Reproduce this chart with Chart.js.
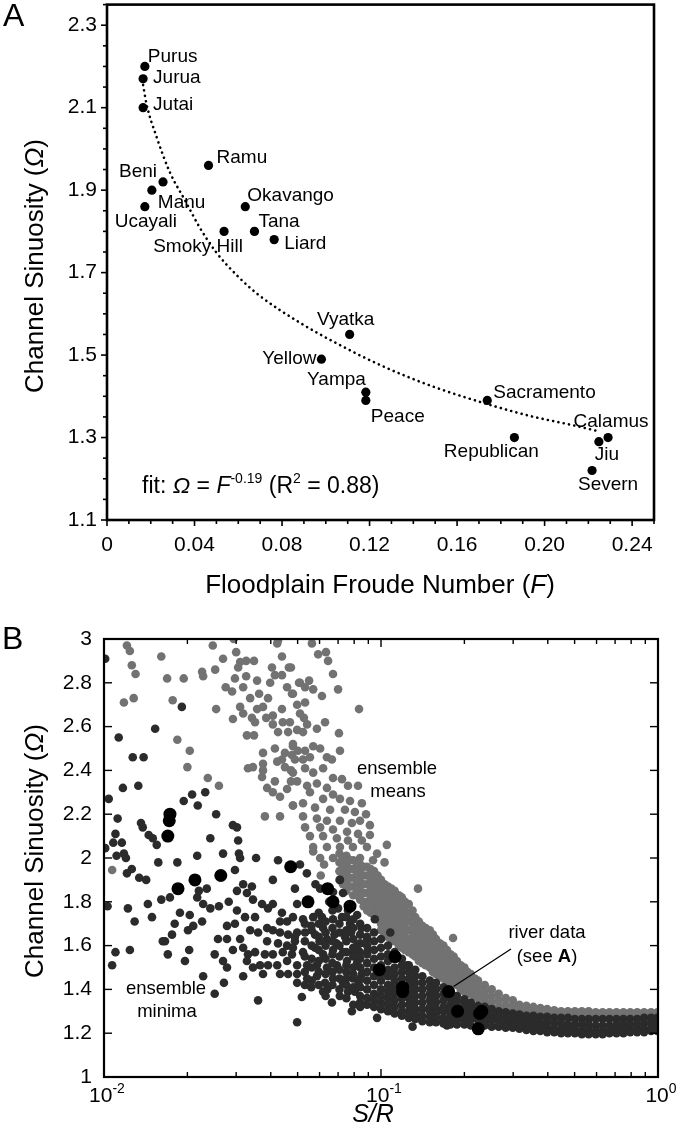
<!DOCTYPE html>
<html><head><meta charset="utf-8">
<script src="https://cdn.jsdelivr.net/npm/chart.js@4.4.1/dist/chart.umd.min.js"></script>
<style>
html,body{margin:0;padding:0;background:#fff;width:680px;height:1135px;overflow:hidden}
#wa{position:absolute;left:0;top:0;width:680px;height:600px}
#wb{position:absolute;left:0;top:600px;width:680px;height:535px}
canvas{display:block}
</style></head><body>
<div id="wa"><canvas id="ca" width="680" height="600"></canvas></div>
<div id="wb"><canvas id="cb" width="680" height="535"></canvas></div>
<script>
// ---------- DATA ----------
const riverNames = ['Purus','Jurua','Jutai','Ramu','Beni','Manu','Ucayali','Okavango','Smoky Hill','Tana','Liard','Vyatka','Yellow','Yampa','Peace','Sacramento','Republican','Calamus','Jiu','Severn'];
const riverF = [0.0173,0.0165,0.0165,0.0464,0.0256,0.0205,0.0173,0.0632,0.0535,0.0674,0.0764,0.1109,0.0980,0.1183,0.1183,0.1738,0.1862,0.2290,0.2248,0.2217];
const riverOmega = [2.20,2.17,2.10,1.96,1.92,1.90,1.86,1.86,1.80,1.80,1.78,1.55,1.49,1.41,1.39,1.39,1.30,1.30,1.29,1.22];
const riverSR = [0.0173,0.0172,0.0170,0.0472,0.0264,0.0213,0.0185,0.0642,0.0545,0.0671,0.0773,0.1124,0.0986,0.1197,0.1197,0.1754,0.189,0.231,0.227,0.2244];

const fitF = [0.0165,0.018,0.0226,0.0286,0.0362,0.0423,0.0498,0.0600,0.0695,0.0877,0.1044,0.1256,0.1483,0.1726,0.1936,0.2136,0.224];
const fitOmega = [2.155,2.11,2.03,1.945,1.87,1.81,1.75,1.69,1.645,1.580,1.530,1.474,1.425,1.383,1.352,1.329,1.316];

const xTicksA = [0,0.04,0.08,0.12,0.16,0.20,0.24];
const xTickLabelsA = ['0','0.04','0.08','0.12','0.16','0.20','0.24'];
const yTicksA = [1.1,1.3,1.5,1.7,1.9,2.1,2.3];
const yTickLabelsA = ['1.1','1.3','1.5','1.7','1.9','2.1','2.3'];

const xTicksB = [0.01,0.1,1];
const xTickExpB = ['-2','-1','0'];
const yTicksB = [1,1.2,1.4,1.6,1.8,2,2.2,2.4,2.6,2.8,3];
const yTickLabelsB = ['1','1.2','1.4','1.6','1.8','2','2.2','2.4','2.6','2.8','3'];

// ensemble means (grey): scattered points [S/R, Omega]
const meansScatter = [
[0.0121,2.97],[0.0124,2.945],[0.0126,2.88],[0.0130,2.84],[0.0118,2.71],[0.0128,2.73],[0.0161,2.92],[0.0169,2.82],[0.0194,2.82],[0.0177,2.72],[0.0184,2.54],[0.0204,2.49],[0.0200,2.415],[0.0237,2.365],[0.0260,2.33],[0.0226,2.85],[0.0228,2.83],[0.0252,2.86],[0.0247,2.97],[0.0254,2.68],[0.0269,2.91],[0.0294,3.0],[0.0300,2.94],[0.0310,2.895],[0.0326,2.90],[0.0348,2.90],[0.0305,2.87],[0.0297,2.82],[0.0326,2.83],[0.0357,2.81],[0.0275,2.78],[0.0290,2.76],[0.0318,2.78],[0.0337,2.73],[0.0363,2.75],[0.0391,2.73],[0.0310,2.69],[0.0318,2.66],[0.0292,2.635],[0.0342,2.64],[0.0351,2.62],[0.0357,2.68],[0.0375,2.69],[0.0385,2.64],[0.0407,2.65],[0.0439,2.68],[0.0407,2.61],[0.0442,2.62],[0.0425,2.575],[0.0462,2.575],[0.0328,2.56],[0.0348,2.56],[0.0414,2.50],[0.0450,2.48],[0.0481,2.51],[0.0477,2.47],[0.0439,2.45],[0.0422,2.44],[0.0450,2.415],[0.0473,2.40],[0.0375,2.48],[0.0375,2.43],[0.0331,2.41],[0.0345,2.415],[0.0375,2.40],[0.0372,2.37],[0.0414,2.35],[0.0473,2.35],[0.0388,2.32],[0.0407,2.30],[0.0432,2.28],[0.0458,2.315],[0.0481,2.24],[0.0381,2.19],[0.0432,2.19],[0.0425,2.995],[0.0422,2.98],[0.0439,2.92],[0.0404,2.87],[0.0414,2.835],[0.0439,2.835],[0.0465,2.87],[0.0398,2.80],[0.0458,2.78],[0.0481,2.75],[0.0498,2.70],[0.0506,2.80],[0.0498,2.585],
[0.0563,2.98],[0.0593,2.93],[0.0633,2.94],[0.0644,2.90],[0.0671,2.84],[0.0700,2.77],[0.0833,2.68],[0.0473,2.87],[0.0510,2.80],[0.0550,2.81],[0.0532,2.78],[0.0569,2.77],[0.0612,2.74],[0.0477,2.75],[0.0532,2.71],[0.0510,2.66],[0.0527,2.64],[0.0541,2.61],[0.0469,2.62],[0.0523,2.575],[0.0587,2.59],[0.0628,2.62],[0.0705,2.57],[0.0711,2.49],[0.0481,2.52],[0.0501,2.49],[0.0532,2.49],[0.0569,2.51],[0.0603,2.50],[0.0489,2.45],[0.0523,2.45],[0.0554,2.46],[0.0638,2.46],[0.0665,2.45],[0.0618,2.41],[0.0481,2.39],[0.0532,2.41],[0.0569,2.39],[0.0671,2.365],[0.0723,2.36],[0.0760,2.33],[0.0826,2.33],[0.0498,2.35],[0.0541,2.33],[0.0587,2.34],[0.0638,2.32],[0.0554,2.30],[0.0618,2.27],[0.0671,2.29],[0.0711,2.27],[0.0773,2.26],[0.0853,2.25],[0.0481,2.24],[0.0523,2.25],[0.0578,2.23],[0.0655,2.22],[0.0741,2.22],[0.0805,2.21],[0.0883,2.20],[0.0523,2.19],[0.0587,2.18],[0.0638,2.17],[0.0711,2.17],[0.0785,2.16],[0.0840,2.17],[0.0912,2.15],[0.0532,2.14],[0.0603,2.14],[0.0671,2.13],[0.0754,2.12],[0.0826,2.11],[0.0554,2.10],[0.0618,2.10],[0.0693,2.09],[0.0760,2.08],[0.0853,2.08],[0.0912,2.105],[0.105,2.06],[0.0569,2.05],[0.0638,2.05],[0.0711,2.05],[0.0792,2.05],[0.0890,2.05],[0.0968,2.02],[0.0603,2.00],[0.0671,2.00],[0.0754,2.00],[0.0840,2.00],[0.0936,1.99],[0.103,1.98],
[0.136,1.86],[0.182,1.635],[0.0107,1.945],[0.0606,1.92],[0.0623,1.97],[0.0569,2.03]
];
// ensemble means (grey): dense band, [S/R, [Omega values]]
const meansBand = [
[0.0708,[2.02,1.98,1.94,1.90]],[0.0750,[2.01,1.97,1.93,1.89,1.85]],[0.0794,[1.99,1.95,1.91,1.87,1.83]],[0.0841,[1.97,1.93,1.89,1.85,1.81]],
[0.0891,[1.96,1.92,1.88,1.84,1.80,1.76]],[0.0944,[1.94,1.90,1.86,1.82,1.78,1.74]],[0.100,[1.90,1.86,1.82,1.78,1.74,1.70,1.67]],
[0.106,[1.87,1.83,1.79,1.75,1.71,1.67,1.64]],[0.112,[1.85,1.81,1.77,1.73,1.69,1.65,1.62]],[0.119,[1.82,1.78,1.74,1.70,1.66,1.62,1.59]],
[0.126,[1.79,1.75,1.71,1.67,1.63,1.60,1.57]],[0.133,[1.73,1.70,1.66,1.62,1.58,1.55]],[0.141,[1.69,1.66,1.62,1.58,1.55,1.52]],
[0.150,[1.67,1.63,1.60,1.56,1.53,1.50]],[0.158,[1.63,1.60,1.56,1.53,1.50,1.47]],[0.168,[1.60,1.57,1.54,1.51,1.48,1.45]],
[0.178,[1.56,1.53,1.50,1.47,1.44]],[0.188,[1.53,1.50,1.47,1.44,1.42]],[0.200,[1.50,1.47,1.44,1.41,1.39]],
[0.211,[1.47,1.44,1.41,1.38]],[0.224,[1.44,1.41,1.38,1.36]],[0.237,[1.42,1.39,1.36,1.34]],[0.251,[1.40,1.37,1.34,1.32]],
[0.266,[1.38,1.35,1.32]],[0.282,[1.36,1.33,1.30]],[0.299,[1.35,1.32,1.30]],[0.316,[1.33,1.31,1.29]],[0.335,[1.325,1.30,1.28]],
[0.355,[1.32,1.295,1.28]],[0.376,[1.315,1.29]],[0.398,[1.31,1.29]],[0.422,[1.305,1.285]],[0.447,[1.30,1.28]],[0.473,[1.30,1.28]],
[0.501,[1.30,1.28]],[0.531,[1.30,1.28]],[0.562,[1.30,1.28]],[0.596,[1.295,1.28]],[0.631,[1.295,1.28]],[0.668,[1.295,1.28]],
[0.708,[1.295,1.28]],[0.750,[1.295,1.28]],[0.794,[1.295,1.28]],[0.841,[1.295,1.28]],[0.891,[1.295,1.28]],[0.944,[1.295,1.28]],[0.995,[1.295,1.28]],
[0.0729,[2.00,1.96,1.92,1.88]],[0.0772,[1.99,1.95,1.91,1.87]],[0.0817,[1.98,1.94,1.90,1.86,1.83]],[0.0866,[1.96,1.92,1.88,1.84,1.80,1.78]],
[0.0917,[1.95,1.91,1.87,1.83,1.79,1.75]],[0.0972,[1.92,1.88,1.84,1.80,1.76,1.72]],[0.103,[1.88,1.84,1.80,1.76,1.72,1.68,1.65]],
[0.109,[1.86,1.82,1.78,1.74,1.70,1.66,1.63]],[0.116,[1.83,1.79,1.75,1.71,1.67,1.63,1.60]],[0.122,[1.80,1.76,1.72,1.68,1.64,1.61,1.58]],
[0.130,[1.76,1.72,1.68,1.64,1.60,1.56]],[0.137,[1.71,1.68,1.64,1.60,1.56,1.53]],[0.145,[1.68,1.64,1.60,1.57,1.54,1.51]],
[0.154,[1.65,1.61,1.58,1.54,1.51,1.48]],[0.163,[1.61,1.58,1.55,1.52,1.49,1.46]],[0.173,[1.58,1.55,1.52,1.49,1.46,1.43]],
[0.183,[1.55,1.52,1.48,1.45,1.43]],[0.194,[1.51,1.48,1.45,1.42,1.40]],[0.205,[1.48,1.45,1.42,1.40,1.38]],[0.218,[1.45,1.42,1.39,1.37]]
];
// ensemble minima (dark): scattered points
const minimaScatter = [
[0.0101,2.91],[0.0113,2.55],[0.0127,2.46],[0.0139,2.46],[0.0153,2.59],[0.0191,2.69],[0.0117,2.32],[0.0133,2.33],[0.0104,2.27],[0.0194,2.26],[0.0208,2.29],[0.0218,2.24],[0.0232,2.30],[0.0254,2.20],[0.0112,2.18],[0.0136,2.16],[0.0138,2.14],[0.0145,2.105],[0.0150,2.09],[0.0155,2.06],[0.0110,2.11],[0.0108,2.07],[0.0116,2.07],[0.0101,2.045],[0.0111,2.01],[0.0118,2.02],[0.0120,2.00],[0.0157,1.98],[0.0184,1.98],[0.0217,2.01],[0.0242,2.09],[0.0292,2.15],[0.0302,2.14],[0.0305,2.08],[0.0269,2.02],[0.0307,2.02],[0.0354,2.00],[0.0425,1.99],
[0.0126,1.95],[0.0121,1.93],[0.0134,1.91],[0.0142,1.90],[0.0297,1.945],[0.0310,2.00],[0.0407,1.90],[0.0103,1.78],[0.0122,1.77],[0.0129,1.71],[0.0144,1.79],[0.0149,1.73],[0.0161,1.81],[0.0173,1.82],[0.0188,1.75],[0.0180,1.70],[0.0176,1.65],[0.0166,1.62],[0.0204,1.74],[0.0201,1.67],[0.0210,1.69],[0.0226,1.71],[0.0217,1.82],[0.0228,1.79],[0.0242,1.77],[0.0235,1.86],[0.0220,1.85],[0.0260,1.78],[0.0282,1.80],[0.0302,1.85],[0.0318,1.88],[0.0342,1.87],[0.0328,1.84],[0.0345,1.81],[0.0302,1.76],[0.0278,1.69],[0.0297,1.70],[0.0323,1.73],[0.0351,1.73],[0.0372,1.79],[0.0391,1.77],[0.0407,1.79],[0.0439,1.75],[0.0458,1.71],[0.0432,1.71],[0.0388,1.68],[0.0407,1.67],[0.0432,1.66],[0.0462,1.65],[0.0498,1.66],[0.0489,1.62],[0.0458,1.60],[0.0425,1.61],[0.0388,1.62],[0.0360,1.66],[0.0337,1.67],[0.0310,1.63],[0.0278,1.63],[0.0258,1.63],[0.0251,1.56],[0.0269,1.53],[0.0278,1.50],[0.0292,1.58],[0.0318,1.59],[0.0331,1.56],[0.0328,1.53],[0.0351,1.57],[0.0381,1.56],[0.0407,1.56],[0.0442,1.57],[0.0477,1.56],[0.0366,1.51],[0.0391,1.51],[0.0422,1.51],[0.0458,1.53],[0.0498,1.51],[0.0345,1.50],[0.0375,1.47],[0.0432,1.47],[0.0462,1.47],[0.0498,1.43],[0.0318,1.46],[0.0271,1.43],[0.0228,1.46],[0.0251,1.38],[0.0360,1.35],[0.0498,1.25],[0.0163,1.62],[0.0170,1.56],[0.0203,1.58],[0.0124,1.58],[0.0110,1.57],[0.0107,1.51],[0.0196,1.53],
[0.0510,1.97],[0.0489,1.86],[0.0498,1.79],[0.0481,1.73],[0.0523,1.72],[0.0569,1.73],[0.0612,1.73],[0.0618,1.68],[0.0671,1.72],[0.0723,1.73],[0.0773,1.70],[0.0603,1.86],[0.0711,1.90],[0.0729,1.84],[0.0671,1.845],[0.0890,1.63],[0.0898,1.58],[0.0819,1.60],[0.0741,1.64],[0.0679,1.65],[0.0638,1.63],[0.0578,1.65],[0.0532,1.66],[0.0489,1.64],[0.0481,1.59],[0.0523,1.57],[0.0578,1.59],[0.0618,1.56],[0.0671,1.58],[0.0729,1.57],[0.0792,1.57],[0.0840,1.57],[0.0819,1.52],[0.0754,1.53],[0.0693,1.51],[0.0638,1.50],[0.0587,1.51],[0.0541,1.51],[0.0498,1.47],[0.0541,1.45],[0.0587,1.46],[0.0628,1.43],[0.0671,1.45],[0.0729,1.43],[0.0792,1.45],[0.0853,1.47],[0.0760,1.39],[0.0805,1.39],[0.0665,1.34],[0.0518,1.365],[0.0618,1.39],[0.0785,1.30],[0.0840,1.34],
[0.0540,1.93],[0.0580,1.88],[0.0650,1.80],[0.0700,1.77],[0.0760,1.76],[0.0820,1.74],[0.0850,1.68],[0.0780,1.66],[0.0560,1.69],[0.0600,1.62],[0.0690,1.61],[0.0750,1.48],[0.0830,1.43],[0.0560,1.41],[0.0640,1.40],[0.0710,1.37],
[0.124,1.51],[0.130,1.23],[0.0968,1.27],[0.173,1.235],[0.0950,1.72],[0.108,1.66]
];
// ensemble minima (dark): dense cloud and band
const minimaBand = [
[0.0531,[1.70,1.62,1.55,1.48,1.42]],[0.0562,[1.67,1.60,1.54,1.50,1.44]],[0.0596,[1.75,1.70,1.64,1.58,1.53,1.48,1.42]],
[0.0631,[1.71,1.66,1.60,1.54,1.47,1.37]],[0.0668,[1.76,1.68,1.62,1.56,1.52,1.48,1.42]],[0.0708,[1.70,1.66,1.60,1.55,1.49,1.45,1.40]],
[0.0750,[1.73,1.67,1.62,1.57,1.51,1.45,1.42,1.36]],[0.0794,[1.72,1.68,1.63,1.59,1.55,1.50,1.47,1.41,1.33]],
[0.0841,[1.70,1.65,1.61,1.54,1.50,1.45,1.41,1.37,1.32]],
[0.0891,[1.68,1.64,1.60,1.56,1.52,1.48,1.44,1.40,1.36,1.33]],[0.0944,[1.66,1.62,1.58,1.54,1.50,1.46,1.42,1.38,1.35,1.32]],
[0.100,[1.63,1.59,1.55,1.51,1.47,1.44,1.40,1.37,1.34,1.31]],[0.106,[1.60,1.56,1.53,1.49,1.46,1.42,1.39,1.36,1.33,1.30]],
[0.112,[1.57,1.54,1.50,1.47,1.44,1.41,1.38,1.35,1.32,1.29]],[0.119,[1.54,1.51,1.48,1.45,1.42,1.39,1.36,1.33,1.30,1.28]],
[0.126,[1.51,1.48,1.45,1.42,1.39,1.36,1.33,1.30,1.27]],[0.133,[1.49,1.46,1.43,1.40,1.37,1.34,1.31,1.29,1.265]],
[0.141,[1.46,1.43,1.40,1.37,1.34,1.31,1.28,1.255]],[0.150,[1.44,1.41,1.38,1.35,1.32,1.30,1.275,1.25]],
[0.158,[1.43,1.40,1.37,1.34,1.31,1.29,1.27,1.25]],[0.168,[1.41,1.38,1.35,1.32,1.30,1.27,1.245]],
[0.178,[1.39,1.36,1.33,1.31,1.29,1.265,1.24]],[0.188,[1.37,1.345,1.32,1.30,1.28,1.26,1.24]],
[0.200,[1.355,1.33,1.31,1.285,1.26,1.24]],[0.211,[1.34,1.315,1.29,1.265,1.235]],[0.224,[1.325,1.30,1.28,1.26,1.235]],
[0.237,[1.32,1.295,1.27,1.25,1.235]],[0.251,[1.31,1.285,1.26,1.23]],[0.266,[1.30,1.275,1.25,1.23]],[0.282,[1.295,1.27,1.245,1.225]],
[0.299,[1.29,1.265,1.245,1.225]],[0.316,[1.285,1.26,1.24,1.22]],[0.335,[1.28,1.255,1.235,1.215]],[0.355,[1.28,1.255,1.23,1.21]],
[0.376,[1.275,1.25,1.23,1.21]],[0.398,[1.275,1.25,1.225,1.205]],[0.422,[1.27,1.245,1.22,1.205]],[0.447,[1.27,1.245,1.22,1.20]],
[0.473,[1.27,1.24,1.22,1.20]],[0.501,[1.265,1.24,1.215,1.20]],[0.531,[1.265,1.24,1.215,1.195]],[0.562,[1.265,1.24,1.215,1.195]],
[0.596,[1.265,1.235,1.21,1.195]],[0.631,[1.265,1.235,1.21,1.195]],[0.668,[1.265,1.235,1.21,1.20]],[0.708,[1.265,1.24,1.215,1.20]],
[0.750,[1.265,1.24,1.215,1.20]],[0.794,[1.265,1.24,1.215,1.205]],[0.841,[1.265,1.24,1.215,1.205]],[0.891,[1.27,1.245,1.22,1.205]],
[0.944,[1.27,1.245,1.22,1.21]],[0.995,[1.27,1.245,1.22,1.21]]
];

// ---------- LAYOUT / STYLE ----------
const FONT = '"Liberation Sans", Arial, Helvetica, sans-serif';
const f = (s, st) => (st ? st + ' ' : '') + s + 'px ' + FONT;
const labelOffsetsA = {
  'Purus':[3,-10,'left'],'Jurua':[10,-1,'left'],'Jutai':[10,-3,'left'],'Ramu':[8,-8,'left'],'Beni':[-6,-10,'right'],
  'Manu':[6,13,'left'],'Ucayali':[1,15,'center'],'Okavango':[2,-11,'left'],'Smoky Hill':[-26,15,'center'],'Tana':[4,-10,'left'],
  'Liard':[10,4,'left'],'Vyatka':[-4,-15,'center'],'Yellow':[-5,0,'right'],'Yampa':[0,-12,'right'],'Peace':[5,16,'left'],
  'Sacramento':[6,-8,'left'],'Republican':[-23,14,'center'],'Calamus':[3,-16,'center'],'Jiu':[8,13,'center'],'Severn':[16,14,'center']
};

function rich(ctx, parts, x, y, align) {
  let w = 0;
  parts.forEach(p => { ctx.font = p[1]; w += ctx.measureText(p[0]).width; });
  let cx = align === 'center' ? x - w / 2 : (align === 'right' ? x - w : x);
  ctx.textAlign = 'left';
  parts.forEach(p => { ctx.font = p[1]; ctx.fillText(p[0], cx, y + (p[2] || 0)); cx += ctx.measureText(p[0]).width; });
}
function yTitle(ctx, x, cy, size) {
  ctx.save(); ctx.translate(x, cy); ctx.rotate(-Math.PI / 2);
  ctx.textBaseline = 'alphabetic';
  rich(ctx, [['Channel Sinuosity (', f(size)], ['\u03A9', f(size, 'italic')], [')', f(size)]], 0, 0, 'center');
  ctx.restore();
}
function line(ctx, x1, y1, x2, y2) { ctx.beginPath(); ctx.moveTo(x1, y1); ctx.lineTo(x2, y2); ctx.stroke(); }
function noPad(s) { s.paddingTop = 0; s.paddingBottom = 0; s.paddingLeft = 0; s.paddingRight = 0; }

const common = {
  responsive: false, animation: false, devicePixelRatio: 1, events: [],
  plugins: { legend: { display: false }, tooltip: { enabled: false } }
};

// ---------- PANEL A ----------
const panelAPlugin = {
  id: 'panelA',
  afterDraw(chart) {
    const ctx = chart.ctx, a = chart.chartArea, xs = chart.scales.x, ys = chart.scales.y;
    ctx.save();
    ctx.strokeStyle = '#000'; ctx.fillStyle = '#000';
    ctx.lineWidth = 1.6;
    for (let i = 0; i <= 25; i++) {
      const px = xs.getPixelForValue(i / 100);
      line(ctx, px, a.bottom, px, a.bottom + (i % 4 === 0 ? 6 : 4));
    }
    for (let i = 0; i <= 25; i++) {
      const py = ys.getPixelForValue(1.1 + i * 0.05);
      line(ctx, a.left, py, a.left - (i % 4 === 0 ? 6 : 4), py);
    }
    ctx.lineWidth = 2.6;
    ctx.strokeRect(a.left, a.top, a.right - a.left, a.bottom - a.top);
    const meta = chart.getDatasetMeta(0);
    ctx.textBaseline = 'middle';
    meta.data.forEach((pt, i) => {
      const name = riverNames[i], o = labelOffsetsA[name];
      ctx.font = f(19); ctx.textAlign = o[2];
      ctx.fillText(name, pt.x + o[0], pt.y + o[1]);
    });
    ctx.textBaseline = 'alphabetic';
    rich(ctx, [['fit: ', f(23)], ['\u03A9', f(23, 'italic')], [' = ', f(23)], ['F', f(23, 'italic')], ['-0.19', f(14), -10],
      [' (R', f(23)], ['2', f(14), -10], [' = 0.88)', f(23)]], 142, 493, 'left');
    ctx.font = f(32); ctx.textAlign = 'left'; ctx.fillText('A', 3, 26);
    rich(ctx, [['Floodplain Froude Number (', f(26)], ['F', f(26, 'italic')], [')', f(26)]], 380, 593, 'center');
    yTitle(ctx, 43, 266, 26);
    ctx.restore();
  }
};

new Chart(document.getElementById('ca'), {
  type: 'scatter',
  data: {
    datasets: [
      { data: riverF.map((v, i) => ({ x: v, y: riverOmega[i] })), backgroundColor: '#000', borderWidth: 0, pointRadius: 4.6, clip: false },
      { data: fitF.map((v, i) => ({ x: v, y: fitOmega[i] })), showLine: true, borderColor: '#000', borderWidth: 2.6,
        borderDash: [0.1, 5.3], borderCapStyle: 'round', pointRadius: 0, cubicInterpolationMode: 'monotone', fill: false }
    ]
  },
  options: Object.assign({}, common, {
    layout: { padding: { left: 0, right: 26, top: 4, bottom: 0 } },
    scales: {
      x: { type: 'linear', min: 0, max: 0.25,
        afterBuildTicks: s => { s.ticks = xTicksA.map(v => ({ value: v })); },
        afterFit: s => { s.height = 80; noPad(s); },
        grid: { display: false, drawTicks: false }, border: { display: false },
        ticks: { padding: 13, color: '#000', font: { family: FONT, size: 21 }, autoSkip: false, maxRotation: 0,
          callback: (v, i) => xTickLabelsA[i] } },
      y: { type: 'linear', min: 1.1, max: 2.35,
        afterBuildTicks: s => { s.ticks = yTicksA.map(v => ({ value: v })); },
        afterFit: s => { s.width = 107; noPad(s); },
        grid: { display: false, drawTicks: false }, border: { display: false },
        ticks: { padding: 10, color: '#000', font: { family: FONT, size: 21 }, autoSkip: false,
          callback: (v, i) => yTickLabelsA[i] } }
    }
  }),
  plugins: [panelAPlugin]
});

// ---------- PANEL B ----------
function expand(scatter, band) {
  const pts = scatter.map(p => ({ x: p[0], y: p[1] }));
  band.forEach(c => c[1].forEach(y => pts.push({ x: c[0], y: y })));
  return pts;
}
const panelBPlugin = {
  id: 'panelB',
  afterDraw(chart) {
    const ctx = chart.ctx, a = chart.chartArea, xs = chart.scales.x, ys = chart.scales.y;
    ctx.save();
    ctx.strokeStyle = '#000'; ctx.fillStyle = '#000';
    ctx.lineWidth = 1.4;
    [0.01, 0.1].forEach(dec => {
      for (let k = 1; k <= 9; k++) {
        const px = xs.getPixelForValue(dec * k), len = k === 1 ? 8 : 5;
        line(ctx, px, a.bottom, px, a.bottom - len);
        line(ctx, px, a.top, px, a.top + len);
      }
    });
    yTicksB.forEach(v => {
      const py = ys.getPixelForValue(v);
      line(ctx, a.left, py, a.left + 8, py);
      line(ctx, a.right, py, a.right - 8, py);
    });
    ctx.lineWidth = 2.2;
    ctx.strokeRect(a.left, a.top, a.right - a.left, a.bottom - a.top);
    ctx.textBaseline = 'alphabetic';
    xTicksB.forEach((v, i) => {
      rich(ctx, [['10', f(21)], [xTickExpB[i], f(14), -9]], xs.getPixelForValue(v) + 3, 502, 'center');
    });
    ctx.textBaseline = 'middle';
    rich(ctx, [['ensemble', f(18.5)]], 397, 169, 'center');
    rich(ctx, [['means', f(18.5)]], 398, 192, 'center');
    rich(ctx, [['ensemble', f(18.5)]], 166, 389, 'center');
    rich(ctx, [['minima', f(18.5)]], 167, 412, 'center');
    rich(ctx, [['river data', f(18.5)]], 547, 333, 'center');
    rich(ctx, [['(see ', f(18.5)], ['A', f(18.5, 'bold')], [')', f(18.5)]], 547, 357, 'center');
    const sac = chart.getDatasetMeta(0).data[riverNames.indexOf('Sacramento')];
    ctx.lineWidth = 1.2;
    line(ctx, sac.x + 5, sac.y - 5, 511, 349);
    ctx.textBaseline = 'alphabetic';
    ctx.font = f(32); ctx.textAlign = 'left'; ctx.fillText('B', 2, 49);
    rich(ctx, [['S/R', f(25, 'italic')]], 373, 522, 'center');
    yTitle(ctx, 43, 251, 26);
    ctx.restore();
  }
};

new Chart(document.getElementById('cb'), {
  type: 'scatter',
  data: {
    datasets: [
      { data: riverSR.map((v, i) => ({ x: v, y: riverOmega[i] })), backgroundColor: '#000', borderWidth: 0, pointRadius: 6.5, clip: 0 },
      { data: expand(minimaScatter, minimaBand), backgroundColor: '#2b2b2b', borderWidth: 0, pointRadius: 4.3, clip: 0 },
      { data: expand(meansScatter, meansBand), backgroundColor: '#727272', borderWidth: 0, pointRadius: 4.3, clip: 0 }
    ]
  },
  options: Object.assign({}, common, {
    layout: { padding: { left: 0, right: 22, top: 39, bottom: 0 } },
    scales: {
      x: { type: 'logarithmic', min: 0.01, max: 1,
        afterBuildTicks: s => { s.ticks = xTicksB.map(v => ({ value: v })); },
        afterFit: s => { s.height = 58; noPad(s); },
        grid: { display: false, drawTicks: false }, border: { display: false },
        ticks: { display: false } },
      y: { type: 'linear', min: 1, max: 3,
        afterBuildTicks: s => { s.ticks = yTicksB.map(v => ({ value: v })); },
        afterFit: s => { s.width = 104; noPad(s); },
        grid: { display: false, drawTicks: false }, border: { display: false },
        ticks: { padding: 12, color: '#000', font: { family: FONT, size: 21 }, autoSkip: false,
          callback: (v, i) => yTickLabelsB[i] } }
    }
  }),
  plugins: [panelBPlugin]
});
</script></body></html>
